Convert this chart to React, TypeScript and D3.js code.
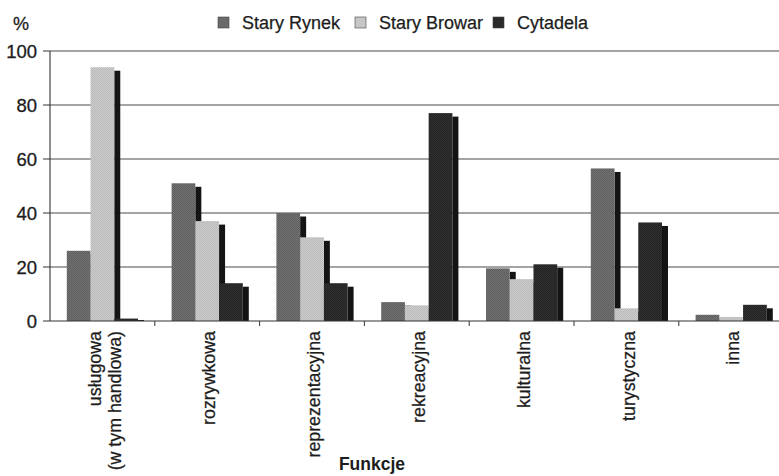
import React, { useEffect, useRef } from 'react';
import * as d3 from 'd3';

const categories = [
  ['usługowa', '(w tym handlowa)'],
  ['rozrywkowa'],
  ['reprezentacyjna'],
  ['rekreacyjna'],
  ['kulturalna'],
  ['turystyczna'],
  ['inna'],
];
const seriesNames = ['Stary Rynek', 'Stary Browar', 'Cytadela'];
const staryRynek = [26, 51, 40, 7, 19.5, 56.5, 2.3];
const staryBrowar = [94, 37, 31, 5.8, 15.5, 4.7, 1.5];
const cytadela = [0.9, 14, 14, 77, 21, 36.5, 6];
const yTicks = [0, 20, 40, 60, 80, 100];

const fills = ['url(#patSR)', 'url(#patSB)', 'url(#patC)'];
const legendFills = ['#6a6a6a', '#c6c6c6', '#2a2a2a'];

const App = () => {
  const svgRef = useRef<SVGSVGElement>(null);

  useEffect(() => {
    if (!svgRef.current) return;
    const svg = d3.select(svgRef.current);
    svg.selectAll('*').remove();

    const width = 779;
    const height = 476;
    const left = 50;
    const top = 51;
    const bottom = 321;
    const font = 'Arial, "Liberation Sans", sans-serif';
    const ink = '#1c1c1c';

    // textures for the scanned look
    const defs = svg.append('defs');
    const pat = (id: string, a: string, b: string) => {
      const p = defs.append('pattern').attr('id', id).attr('width', 2).attr('height', 2)
        .attr('patternUnits', 'userSpaceOnUse');
      p.append('rect').attr('width', 2).attr('height', 2).attr('fill', a);
      p.append('rect').attr('width', 1).attr('height', 1).attr('fill', b);
      p.append('rect').attr('x', 1).attr('y', 1).attr('width', 1).attr('height', 1).attr('fill', b);
    };
    pat('patSR', '#737373', '#5e5e5e');
    pat('patSB', '#cdcdcd', '#b9b9b9');
    pat('patC', '#2f2f2f', '#242424');

    svg.append('rect').attr('width', width).attr('height', height).attr('fill', '#fff');

    const x0 = d3.scaleBand<number>()
      .domain(categories.map((_, i) => i))
      .range([left, left + 7 * 104.8])
      .padding(0);
    const x1 = d3.scaleBand<number>()
      .domain([0, 1, 2])
      .range([16.8, 16.8 + 71.2])
      .padding(0);
    const y = d3.scaleLinear().domain([0, 100]).range([bottom, top]);

    // gridlines
    svg.append('g')
      .selectAll('line')
      .data(yTicks.filter(t => t > 0))
      .join('line')
      .attr('x1', left).attr('x2', width)
      .attr('y1', d => y(d)).attr('y2', d => y(d))
      .attr('stroke', '#4a4a4a').attr('stroke-width', 1.1);

    // bars with side shadow
    const values = [staryRynek, staryBrowar, cytadela];
    const gBars = svg.append('g');
    categories.forEach((_, ci) => {
      values.forEach((vals, si) => {
        const bx = x0(ci)! + x1(si)!;
        const bw = x1.bandwidth();
        const by = y(vals[ci]);
        gBars.append('rect')
          .attr('x', bx + bw).attr('y', Math.min(by + 3.5, bottom - 1))
          .attr('width', 6).attr('height', Math.max(bottom - by - 3.5, 1))
          .attr('fill', '#141414');
        gBars.append('rect')
          .attr('x', bx).attr('y', by)
          .attr('width', bw).attr('height', bottom - by)
          .attr('fill', fills[si]);
      });
    });

    // y axis
    const yAxis = svg.append('g').attr('font-family', font);
    yAxis.append('line')
      .attr('x1', left).attr('x2', left).attr('y1', top).attr('y2', bottom)
      .attr('stroke', '#333').attr('stroke-width', 1.1);
    yAxis.selectAll('line.tick')
      .data(yTicks)
      .join('line')
      .attr('class', 'tick')
      .attr('x1', left - 7).attr('x2', left)
      .attr('y1', d => y(d)).attr('y2', d => y(d))
      .attr('stroke', '#333');
    yAxis.selectAll('text')
      .data(yTicks)
      .join('text')
      .attr('x', 37).attr('y', d => y(d))
      .attr('dy', '0.36em')
      .attr('text-anchor', 'end')
      .attr('font-size', 18.5)
      .attr('fill', ink).attr('stroke', ink).attr('stroke-width', 0.3)
      .text(d => d);

    // x axis
    svg.append('line')
      .attr('x1', left).attr('x2', width).attr('y1', bottom).attr('y2', bottom)
      .attr('stroke', '#333').attr('stroke-width', 1.2);
    svg.append('g')
      .selectAll('line')
      .data(d3.range(1, 8))
      .join('line')
      .attr('x1', d => left + d * x0.bandwidth())
      .attr('x2', d => left + d * x0.bandwidth())
      .attr('y1', bottom).attr('y2', bottom + 5)
      .attr('stroke', '#333');

    // category labels
    const gLab = svg.append('g').attr('font-family', font).attr('font-size', 17.8)
      .attr('fill', ink).attr('stroke', ink).attr('stroke-width', 0.25);
    categories.forEach((lines, ci) => {
      const cx = x0(ci)! + x0.bandwidth() / 2 + 2;
      lines.forEach((line, li) => {
        const off = (li - (lines.length - 1) / 2) * 20;
        gLab.append('text')
          .attr('transform', `translate(${cx + off},331) rotate(-90)`)
          .attr('text-anchor', 'end')
          .attr('dy', '0.35em')
          .text(line);
      });
    });

    svg.append('text')
      .attr('x', 372).attr('y', 470)
      .attr('text-anchor', 'middle')
      .attr('font-family', font).attr('font-size', 17.5).attr('font-weight', 'bold')
      .attr('fill', ink)
      .text('Funkcje');

    svg.append('text')
      .attr('x', 13).attr('y', 30)
      .attr('font-family', font).attr('font-size', 18)
      .attr('fill', ink).attr('stroke', ink).attr('stroke-width', 0.3)
      .text('%');

    // legend
    const legendX = [218, 355, 493];
    const gLeg = svg.append('g').attr('font-family', font).attr('font-size', 18)
      .attr('fill', ink).attr('stroke', ink).attr('stroke-width', 0.25);
    seriesNames.forEach((name, i) => {
      gLeg.append('rect')
        .attr('x', legendX[i]).attr('y', 17).attr('width', 11).attr('height', 11)
        .attr('fill', legendFills[i]).attr('stroke', '#444').attr('stroke-width', 0.6);
      gLeg.append('text')
        .attr('x', legendX[i] + 24).attr('y', 29)
        .text(name);
    });
  }, []);

  return (
    <svg
      ref={svgRef}
      width={779}
      height={476}
      style={{ position: 'absolute', left: 0, top: 0, display: 'block' }}
    />
  );
};

export default App;
